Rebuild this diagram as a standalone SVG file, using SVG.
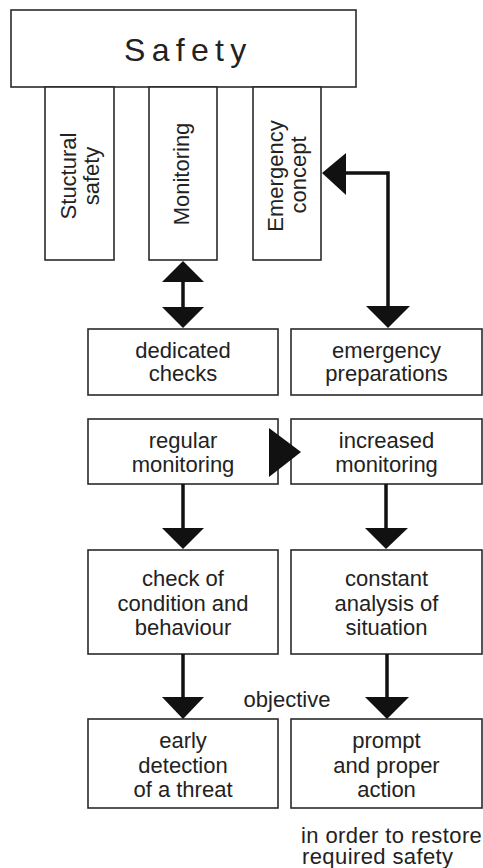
<svg xmlns="http://www.w3.org/2000/svg" width="483" height="868" viewBox="0 0 483 868">
<style>
.box{fill:#fff;stroke:#2a2a2a;stroke-width:1.6}
.t{font-family:"Liberation Sans",Arial,sans-serif;font-size:22px;fill:#222;text-anchor:middle}
.tl{font-family:"Liberation Sans",Arial,sans-serif;font-size:22px;fill:#222}
.ln{stroke:#111;stroke-width:3.5;fill:none}
.ah{fill:#111;stroke:none}
</style>
<rect width="483" height="868" fill="#fff"/>
<g id="safety">
<rect class="box" x="11" y="10" width="345" height="77"/>
<text class="tl" x="124" y="61" style="font-size:32px;letter-spacing:6.3px">Safety</text>
</g>
<g id="structural-safety">
<rect class="box" x="45" y="87" width="69" height="173"/>
<text class="t" transform="translate(76,176) rotate(-90)">Stuctural</text>
<text class="t" transform="translate(99,176) rotate(-90)">safety</text>
</g>
<g id="monitoring">
<rect class="box" x="149" y="87" width="68" height="173"/>
<text class="t" transform="translate(189,174) rotate(-90)">Monitoring</text>
</g>
<g id="emergency-concept">
<rect class="box" x="253" y="87" width="68" height="173"/>
<text class="t" transform="translate(283,176) rotate(-90)">Emergency</text>
<text class="t" transform="translate(306,175) rotate(-90)">concept</text>
</g>
<g id="dedicated-checks">
<rect class="box" x="88" y="329" width="190" height="66"/>
<text class="t" x="183" y="358">dedicated</text>
<text class="t" x="183" y="381">checks</text>
</g>
<g id="emergency-preparations">
<rect class="box" x="291" y="329" width="191" height="66"/>
<text class="t" x="386.5" y="358">emergency</text>
<text class="t" x="386.5" y="381">preparations</text>
</g>
<g id="regular-monitoring">
<rect class="box" x="88" y="419" width="190" height="65"/>
<text class="t" x="183" y="448">regular</text>
<text class="t" x="183" y="472">monitoring</text>
</g>
<g id="increased-monitoring">
<rect class="box" x="291" y="419" width="191" height="65"/>
<text class="t" x="386.5" y="448">increased</text>
<text class="t" x="386.5" y="472">monitoring</text>
</g>
<g id="check-condition">
<rect class="box" x="88" y="550" width="190" height="104"/>
<text class="t" x="183" y="586">check of</text>
<text class="t" x="183" y="611">condition and</text>
<text class="t" x="183" y="635">behaviour</text>
</g>
<g id="constant-analysis">
<rect class="box" x="291" y="550" width="191" height="104"/>
<text class="t" x="386.5" y="586">constant</text>
<text class="t" x="386.5" y="611">analysis of</text>
<text class="t" x="386.5" y="635">situation</text>
</g>
<g id="early-detection">
<rect class="box" x="88" y="719" width="190" height="89"/>
<text class="t" x="183" y="748">early</text>
<text class="t" x="183" y="773">detection</text>
<text class="t" x="183" y="797">of a threat</text>
</g>
<g id="prompt-action">
<rect class="box" x="291" y="719" width="191" height="89"/>
<text class="t" x="386.5" y="748">prompt</text>
<text class="t" x="386.5" y="773">and proper</text>
<text class="t" x="386.5" y="797">action</text>
</g>
<g id="labels">
<text class="t" x="287" y="707">objective</text>
<text class="tl" style="letter-spacing:0.4px"><tspan x="301" y="843">in order to restore</tspan><tspan x="302" y="864">required safety</tspan></text>
</g>
<g id="connectors">
<path class="ln" d="M183 281 V308"/>
<polygon class="ah" points="183,261 162,282 204,282"/>
<polygon class="ah" points="162,307 204,307 183,328"/>
<path class="ln" d="M345 173 H388 V307"/>
<polygon class="ah" points="322,173 346,153 346,195"/>
<polygon class="ah" points="366,306 410,306 388,328"/>
<polygon class="ah" points="269,428 269,477 301,452"/>
<path class="ln" d="M183 484 V529"/>
<polygon class="ah" points="162,528 204,528 183,549"/>
<path class="ln" d="M386 484 V529"/>
<polygon class="ah" points="365,528 408,528 386,549"/>
<path class="ln" d="M183 654 V698"/>
<polygon class="ah" points="162,697 204,697 183,719"/>
<path class="ln" d="M387 654 V698"/>
<polygon class="ah" points="365,697 409,697 387,719"/>
</g>
</svg>
